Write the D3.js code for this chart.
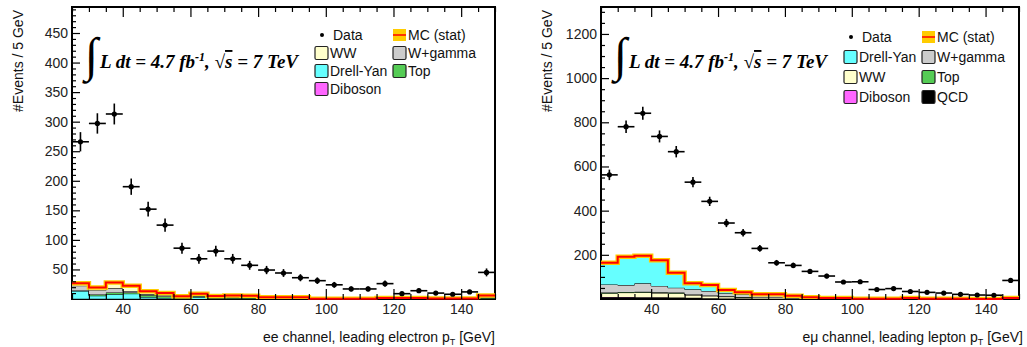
<!DOCTYPE html>
<html><head><meta charset="utf-8">
<script src="https://cdn.jsdelivr.net/npm/d3@7"></script>
<style>
html,body{margin:0;padding:0;background:#fff;}
svg{display:block;}
text{fill:#111;}
</style></head>
<body>
<svg id="chart" width="1027" height="347"></svg>
<script>
// ---------- DATA ----------
const binEdges = d3.range(25, 151, 5); // 25..150, 25 bins
const xMajorTicks = [40, 60, 80, 100, 120, 140];
const leftYTicks = [50, 100, 150, 200, 250, 300, 350, 400, 450];
const rightYTicks = [200, 400, 600, 800, 1000, 1200];

// ee channel
const eeData = [266, 297, 313, 190, 152, 125, 86, 68, 81, 68, 57, 49, 44, 36, 31, 24, 17, 17, 26, 9, 14, 10, 8, 12, 45];
const eeDiboson = [0.5, 0.5, 0.5, 0.5, 0.3, 0.3, 0.2, 0.2, 0.2, 0.1, 0.1, 0.1, 0.1, 0.1, 0, 0, 0, 0, 0, 0, 0, 0, 0, 0, 0];
const eeDrellYan = [13, 5, 7.5, 8.5, 3, 1.5, 0.8, 3, 1, 0.8, 0.8, 0.4, 0.4, 0.3, 0, 0, 0, 0, 0, 0, 0, 0, 0, 0, 0];
const eeTop = [1, 2, 3, 2, 3, 2.5, 1.5, 1.5, 1.5, 1.5, 1.5, 1, 1, 1, 0.2, 0.1, 0.1, 0.1, 0.3, 0.3, 0.5, 0.3, 0.3, 0.2, 1.5];
const eeWgamma = [8, 7, 7, 2.5, 2, 1.5, 0.8, 1.5, 1, 1.2, 1.2, 0.6, 0.6, 0.6, 0.1, 0, 0, 0, 0.5, 0.5, 0.5, 0.2, 0.2, 0.2, 2];
const eeWW = [4, 5, 10, 9, 5, 4.5, 1.5, 2.5, 1.5, 2.5, 2, 1, 1, 1, 0.2, 0.2, 0.2, 0.2, 0.7, 0.7, 0.5, 0.3, 0.3, 0.4, 2.5];

// emu channel
const emData = [562, 780, 841, 736, 667, 529, 442, 344, 300, 229, 164, 152, 125, 104, 77, 78, 43, 47, 34, 30, 27, 21, 18, 17, 84];
const emQCD = [8, 8, 7, 7, 6, 5, 3, 2, 1.5, 1, 1, 0.8, 0.5, 0.3, 0.3, 0.1, 0.1, 0.1, 0.2, 0.1, 0.1, 0.1, 0, 0, 0.2];
const emDiboson = [1, 1, 1, 1, 1, 0.5, 0.5, 0.5, 0.3, 0.3, 0.3, 0.2, 0.2, 0.1, 0.1, 0, 0, 0, 0, 0, 0, 0, 0, 0, 0];
const emWW = [17, 20, 22, 19, 19, 12.5, 10.5, 8, 6, 5, 5, 4, 2, 1.5, 1.5, 0.5, 0.5, 0.5, 1.5, 0.5, 0.5, 0.5, 0.1, 0.1, 1.5];
const emTop = [3, 3, 3, 3, 3, 2, 2, 1.5, 1, 1, 1, 0.8, 0.5, 0.4, 0.4, 0.2, 0.2, 0.2, 0.3, 0.2, 0.2, 0.2, 0.1, 0.1, 0.3];
const emWgamma = [37, 31, 38, 29, 22, 24, 20, 14, 12.2, 12, 12.5, 8.5, 4, 2.5, 2.5, 0.7, 0.7, 0.7, 2.5, 0.7, 0.7, 0.7, 0.1, 0.1, 2.5];
const emDrellYan = [98, 128, 125, 117, 68, 27, 27, 15, 9, 1.7, 1.2, 0.7, 0.3, 0.2, 0.2, 0, 0, 0, 0, 0, 0, 0, 0, 0, 0];

const colors = {WW:"#ffffcc", "Drell-Yan":"#66ffff", Diboson:"#ff66ff", "W+gamma":"#cccccc", Top:"#55cc55", QCD:"#000000"};
const SANS = "'Liberation Sans', Arial, Helvetica, sans-serif";
const SERIF = "'Liberation Serif', 'Times New Roman', Times, serif";

// ---------- DRAW ----------
const svg = d3.select("#chart");
const defs = svg.append("defs");

function panel(cfg, idx){
  const g = svg.append("g");
  const x = d3.scaleLinear().domain([25,150]).range([cfg.x0, cfg.x1]);
  const y = d3.scaleLinear().domain([0, cfg.ymax]).range([cfg.yb, cfg.yt]);
  const nb = binEdges.length - 1;
  const clipId = "clip" + idx;
  defs.append("clipPath").attr("id", clipId).append("rect")
    .attr("x", cfg.x0).attr("y", cfg.yt).attr("width", cfg.x1-cfg.x0).attr("height", cfg.yb-cfg.yt);

  // frame (drawn first so that the MC total line stays visible on the bottom edge)
  g.append("rect").attr("x",cfg.x0).attr("y",cfg.yt).attr("width",cfg.x1-cfg.x0).attr("height",cfg.yb-cfg.yt)
    .attr("fill","none").attr("stroke","#000").attr("stroke-width",2);

  // stacked histograms
  const sg = g.append("g").attr("clip-path", `url(#${clipId})`);
  const cum = new Array(nb).fill(0);
  cfg.layers.forEach(L => {
    const pts = [];
    for (let i=0;i<nb;i++){
      const lo = cum[i], hi = cum[i] + L.values[i];
      pts.push({x:binEdges[i], y0:lo, y1:hi});
      pts.push({x:binEdges[i+1], y0:lo, y1:hi});
      cum[i] = hi;
    }
    sg.append("path").attr("d", d3.area().x(d=>x(d.x)).y0(d=>y(d.y0)).y1(d=>y(d.y1))(pts))
      .attr("fill", colors[L.name]).attr("stroke","none");
    sg.append("path").attr("d", d3.line().x(d=>x(d.x)).y(d=>y(d.y1))(pts))
      .attr("fill","none").attr("stroke","#000").attr("stroke-width",1);
  });
  // MC total with stat band
  const tot = [];
  for (let i=0;i<nb;i++){ tot.push({x:binEdges[i], v:cum[i]}); tot.push({x:binEdges[i+1], v:cum[i]}); }
  const totLine = d3.line().x(d=>x(d.x)).y(d=>y(d.v));
  sg.append("path").attr("d", totLine(tot)).attr("fill","none").attr("stroke","#ffcc00").attr("stroke-width",4.5);
  g.append("path").attr("d", totLine(tot)).attr("fill","none").attr("stroke","#ff0000").attr("stroke-width",2);

  // data points
  const dg = g.append("g");
  cfg.data.forEach((v,i) => {
    const c = (binEdges[i]+binEdges[i+1])/2, e = Math.sqrt(v);
    dg.append("line").attr("x1",x(binEdges[i])).attr("x2",x(binEdges[i+1])).attr("y1",y(v)).attr("y2",y(v))
      .attr("stroke","#000").attr("stroke-width",1.6);
    dg.append("line").attr("x1",x(c)).attr("x2",x(c)).attr("y1",y(v-e)).attr("y2",y(Math.min(v+e,cfg.ymax)))
      .attr("stroke","#000").attr("stroke-width",1.6);
    dg.append("circle").attr("cx",x(c)).attr("cy",y(v)).attr("r",2.6).attr("fill","#000");
  });

  // axes (ROOT style: ticks inside)
  const minorX = d3.range(25,151,5).filter(v=>!xMajorTicks.includes(v));
  g.append("g").attr("transform",`translate(0,${cfg.yb})`)
    .call(d3.axisBottom(x).tickValues(xMajorTicks).tickSize(-10).tickPadding(5).tickFormat(d3.format("d")));
  g.append("g").attr("transform",`translate(0,${cfg.yb})`)
    .call(d3.axisBottom(x).tickValues(minorX).tickSize(-5).tickFormat(""));
  g.append("g").attr("transform",`translate(0,${cfg.yt})`)
    .call(d3.axisTop(x).tickValues(xMajorTicks).tickSize(-10).tickFormat(""));
  g.append("g").attr("transform",`translate(0,${cfg.yt})`)
    .call(d3.axisTop(x).tickValues(minorX).tickSize(-5).tickFormat(""));
  g.append("g").attr("transform",`translate(${cfg.x0},0)`)
    .call(d3.axisLeft(y).tickValues(cfg.yTicks).tickSize(-8).tickPadding(4).tickFormat(d3.format("d")));
  g.append("g").attr("transform",`translate(${cfg.x0},0)`)
    .call(d3.axisLeft(y).tickValues(d3.range(cfg.minorStep, cfg.ymax, cfg.minorStep).filter(v=>!cfg.yTicks.includes(v))).tickSize(-4).tickFormat(""));
  g.selectAll(".domain").remove();
  g.selectAll(".tick line").attr("stroke","#000").attr("stroke-width",1.2);
  g.selectAll(".tick text").attr("font-size",14).style("font-family",SANS).style("fill","#222");

  // y title
  g.append("text").attr("transform",`translate(${cfg.x0-49},10) rotate(-90)`).attr("text-anchor","end")
    .attr("font-size",14).style("font-family",SANS).text("#Events / 5 GeV");
  // x title
  const xt = g.append("text").attr("x",cfg.x1+cfg.xtShift).attr("y",342).attr("text-anchor","end")
    .attr("font-size",14).style("font-family",SANS);
  xt.append("tspan").text(cfg.xtitle);
  xt.append("tspan").attr("font-size",9).attr("dy",3).text("T");
  xt.append("tspan").attr("dy",-3).text(" [GeV]");

  // luminosity label
  g.append("text").attr("x",cfg.x0+13).attr("y",71).style("font-family",SERIF).attr("font-size",48)
    .style("fill","#000").text("\u222B");
  const lt = g.append("text").attr("x",cfg.x0+28).attr("y",68).style("font-family",SERIF)
    .style("font-style","italic").style("font-weight","bold").attr("font-size",19).style("fill","#000");
  lt.append("tspan").text("L dt = 4.7 fb");
  lt.append("tspan").attr("font-size",12).attr("dy",-7).text("-1");
  lt.append("tspan").attr("dy",7).text(", \u221A");
  lt.append("tspan").attr("text-decoration","overline").text("s");
  lt.append("tspan").text(" = 7 TeV");

  // legend
  const lg = g.append("g").style("font-family",SANS);
  const c1 = cfg.x0 + 243, c2 = cfg.x0 + 321;
  lg.append("circle").attr("cx",c1+7).attr("cy",cfg.legY[0]).attr("r",2).attr("fill","#000");
  lg.append("text").attr("x",c1+18).attr("y",cfg.legY[0]+5).attr("font-size",14).text("Data");
  lg.append("rect").attr("x",c2).attr("y",cfg.legY[0]-6).attr("width",13).attr("height",12).attr("fill","#ffcc00");
  lg.append("line").attr("x1",c2).attr("x2",c2+13).attr("y1",cfg.legY[0]).attr("y2",cfg.legY[0]).attr("stroke","#ff0000").attr("stroke-width",1.5);
  lg.append("text").attr("x",c2+15).attr("y",cfg.legY[0]+5).attr("font-size",14).text("MC (stat)");
  cfg.legend.forEach((name,k) => {
    const col = k%2===0 ? c1 : c2;
    const yy = cfg.legY[1 + Math.floor(k/2)];
    lg.append("rect").attr("x",col).attr("y",yy-6.5).attr("width",13).attr("height",13).attr("rx",1.5)
      .attr("fill",colors[name]).attr("stroke","#222").attr("stroke-width",1.2);
    lg.append("text").attr("x",col+15).attr("y",yy+5).attr("font-size",14).text(name);
  });
}

panel({x0:72, x1:495, yt:7, yb:299, ymax:494, yTicks:leftYTicks, minorStep:10,
  data:eeData,
  layers:[{name:"Diboson",values:eeDiboson},{name:"Drell-Yan",values:eeDrellYan},{name:"Top",values:eeTop},
          {name:"W+gamma",values:eeWgamma},{name:"WW",values:eeWW}],
  legend:["WW","W+gamma","Drell-Yan","Top","Diboson"], legY:[35,53,71,89],
  xtitle:"ee channel, leading electron p", xtShift:0}, 0);

panel({x0:601, x1:1019, yt:7, yb:299, ymax:1322, yTicks:rightYTicks, minorStep:50,
  data:emData,
  layers:[{name:"QCD",values:emQCD},{name:"Diboson",values:emDiboson},{name:"WW",values:emWW},{name:"Top",values:emTop},
          {name:"W+gamma",values:emWgamma},{name:"Drell-Yan",values:emDrellYan}],
  legend:["Drell-Yan","W+gamma","WW","Top","Diboson","QCD"], legY:[37,57,77,97],
  xtitle:"e\u03BC channel, leading lepton p", xtShift:4}, 1);
</script>
</body></html>
